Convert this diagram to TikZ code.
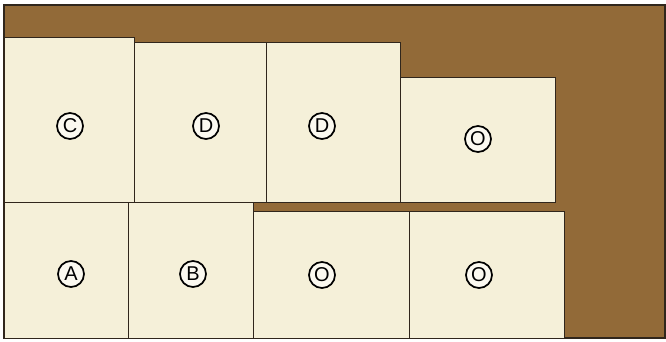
\documentclass[tikz,border=0pt]{standalone}
\usepackage{fontspec}
\setsansfont{Liberation Sans}
\usetikzlibrary{positioning}
\definecolor{boardbrown}{RGB}{146,106,56}
\definecolor{tilecream}{RGB}{245,240,217}
\definecolor{edgedark}{RGB}{48,38,28}
\tikzset{
    frame style/.style={draw=edgedark, line width=1.4pt, fill=boardbrown},
    tile style/.style={draw=edgedark, line width=0.8pt, fill=tilecream, rectangle, inner sep=0pt, outer sep=0pt, anchor=south west},
    mark style/.style={draw=black, circle, line width=1.7pt, minimum size=26pt, inner sep=0pt, fill=tilecream!40!white, font=\sffamily\fontsize{20}{20}\selectfont},
}

\begin{document}
\begin{tikzpicture}[x=1pt, y=-1pt]
        \useasboundingbox (0,0) rectangle (666,341);
        \draw [frame style] (4,5) rectangle (665,338);

        % top row, bottoms in line
        \node (c) [tile style, minimum width=130pt, minimum height=165pt] at (4,202) {};
        \node (done) [tile style, minimum width=132pt, minimum height=160pt] at (c.south east) {};
        \node (dtwo) [tile style, minimum width=134pt, minimum height=160pt] at (done.south east) {};
        \node (oone) [tile style, minimum width=155pt, minimum height=125pt] at (dtwo.south east) {};

        % bottom row
        \node (a) [tile style, minimum width=124pt, minimum height=136pt] at (4,338) {};
        \node (b) [tile style, minimum width=125pt, minimum height=136pt] at (a.south east) {};
        \node (otwo) [tile style, minimum width=156pt, minimum height=127pt] at (b.south east) {};
        \node (othree) [tile style, minimum width=155pt, minimum height=127pt] at (otwo.south east) {};

        \node (c mark) [mark style] at (70,126) {C};
        \node (done mark) [mark style] at (206,126) {D};
        \node (dtwo mark) [mark style] at (322,126) {D};
        \node (oone mark) [mark style] at (478,139) {O};
        \node (a mark) [mark style] at (71,274) {A};
        \node (b mark) [mark style] at (193,274) {B};
        \node (otwo mark) [mark style] at (322,275) {O};
        \node (othree mark) [mark style] at (479,275) {O};
    \end{tikzpicture}
\end{document}
